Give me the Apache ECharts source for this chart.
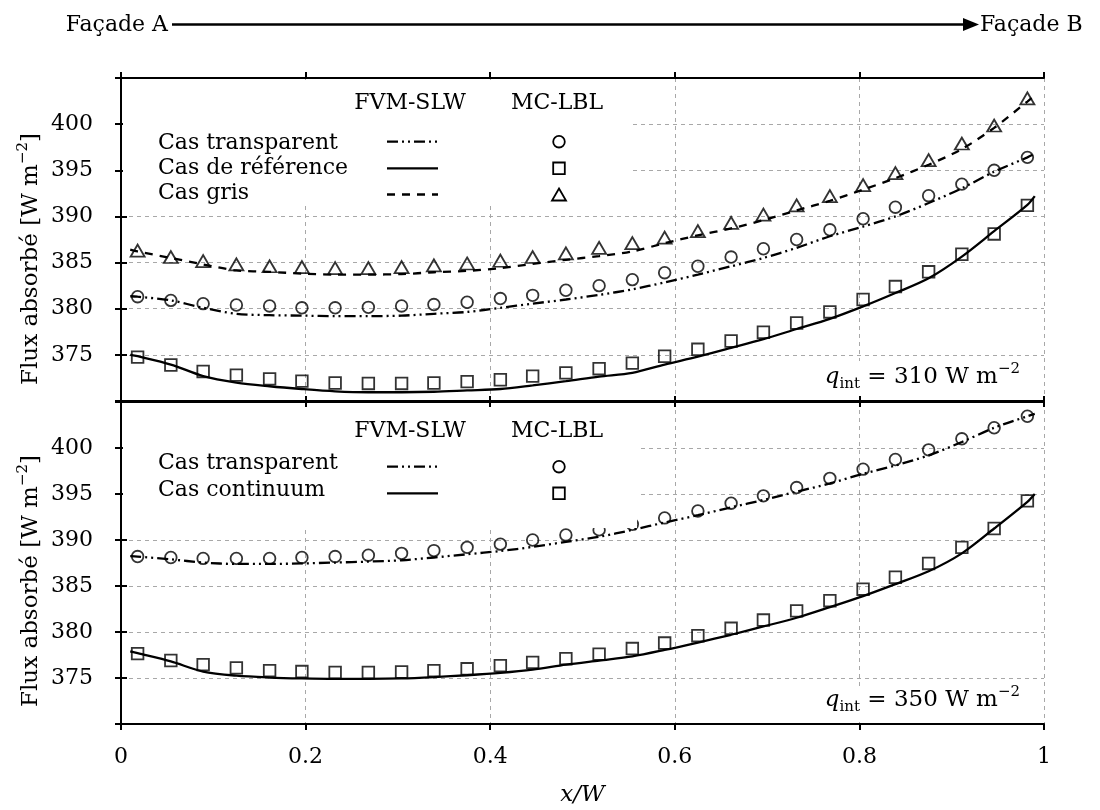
<!DOCTYPE html>
<html><head><meta charset="utf-8">
<script src="https://cdn.jsdelivr.net/npm/echarts@6/dist/echarts.min.js"></script>
<style>html,body{margin:0;padding:0;background:#fff}#c{width:1100px;height:810px}</style>
</head><body><div id="c"></div>
<script>
// ---------- data ----------
const markerX = [0.018, 0.054, 0.089, 0.125, 0.161, 0.196, 0.232, 0.268, 0.304, 0.339, 0.375, 0.411, 0.446, 0.482,
                 0.518, 0.554, 0.589, 0.625, 0.661, 0.696, 0.732, 0.768, 0.804, 0.839, 0.875, 0.911, 0.946, 0.982];
const lineX = [0.010, 0.018, 0.054, 0.089, 0.125, 0.161, 0.196, 0.232, 0.268, 0.304, 0.339, 0.375, 0.411, 0.446, 0.482,
               0.518, 0.554, 0.589, 0.625, 0.661, 0.696, 0.732, 0.768, 0.804, 0.839, 0.875, 0.911, 0.946, 0.982, 0.990];
const xTicks = [0, 0.2, 0.4, 0.6, 0.8, 1];
const yTicks = [375, 380, 385, 390, 395, 400];

// Top panel (q_int = 310)
const topTransMC = [381.3, 380.9, 380.55, 380.4, 380.3, 380.1, 380.1, 380.15, 380.3, 380.45, 380.7, 381.1, 381.45, 382.0,
                    382.5, 383.15, 383.9, 384.6, 385.6, 386.5, 387.5, 388.55, 389.75, 391.0, 392.25, 393.5, 395.0, 396.4];
const topRefMC = [374.75, 373.9, 373.2, 372.8, 372.4, 372.15, 371.95, 371.9, 371.9, 371.95, 372.1, 372.3, 372.7, 373.05,
                  373.5, 374.1, 374.85, 375.6, 376.5, 377.45, 378.45, 379.65, 381.0, 382.4, 384.0, 385.9, 388.1, 391.2];
const topGrisMC = [386.3, 385.6, 385.15, 384.8, 384.6, 384.5, 384.4, 384.4, 384.5, 384.7, 384.9, 385.2, 385.6, 386.0,
                   386.6, 387.1, 387.7, 388.4, 389.3, 390.2, 391.2, 392.2, 393.4, 394.7, 396.1, 397.9, 399.85, 402.8];
const topTransFVM = [381.35, 381.3, 380.9, 380.1, 379.45, 379.3, 379.25, 379.2, 379.2, 379.25, 379.45, 379.65, 380.1, 380.55, 381.0,
                     381.5, 382.1, 382.85, 383.7, 384.6, 385.5, 386.6, 387.85, 388.9, 390.0, 391.45, 393.05, 394.85, 396.4, 396.8];
const topRefFVM = [375.0, 374.85, 373.95, 372.7, 372.0, 371.6, 371.3, 371.05, 370.95, 370.95, 371.0, 371.15, 371.3, 371.7, 372.15,
                   372.65, 373.05, 373.95, 374.8, 375.75, 376.7, 377.8, 378.9, 380.25, 381.7, 383.3, 385.65, 388.4, 391.25, 392.2];
const topGrisFVM = [386.4, 386.2, 385.5, 384.8, 384.15, 384.0, 383.8, 383.7, 383.7, 383.75, 383.95, 384.1, 384.4, 384.85, 385.3,
                    385.7, 386.2, 387.1, 387.95, 388.7, 389.6, 390.65, 391.7, 392.9, 394.15, 395.6, 397.3, 399.6, 402.45, 403.1];

// Bottom panel (q_int = 350)
const botTransMC = [388.2, 388.1, 388.0, 388.0, 388.0, 388.1, 388.2, 388.35, 388.55, 388.85, 389.2, 389.55, 390.0, 390.55,
                    391.1, 391.7, 392.4, 393.15, 394.0, 394.8, 395.7, 396.7, 397.7, 398.75, 399.8, 401.0, 402.2, 403.45];
const botContMC = [377.65, 376.9, 376.45, 376.1, 375.8, 375.7, 375.6, 375.6, 375.65, 375.8, 376.0, 376.35, 376.7, 377.1,
                   377.6, 378.2, 378.8, 379.6, 380.4, 381.3, 382.3, 383.4, 384.65, 385.95, 387.45, 389.2, 391.25, 394.25];
const botTransFVM = [388.25, 388.2, 387.9, 387.55, 387.4, 387.4, 387.45, 387.55, 387.65, 387.8, 388.1, 388.45, 388.8, 389.25, 389.8,
                     390.35, 391.1, 391.9, 392.7, 393.55, 394.35, 395.25, 396.15, 397.2, 398.1, 399.2, 400.65, 402.2, 403.45, 403.7];
const botContFVM = [377.9, 377.7, 376.8, 375.7, 375.25, 375.05, 374.95, 374.9, 374.9, 374.95, 375.1, 375.3, 375.55, 375.9, 376.45,
                    376.9, 377.35, 378.05, 378.85, 379.7, 380.6, 381.55, 382.7, 383.9, 385.2, 386.6, 388.55, 391.25, 394.15, 395.0];

// ---------- styling ----------
const FONT = 'DejaVu Serif';
const DASHDOTDOT = [11, 4, 2, 4, 2, 4];
const DASHED = [8, 7];
const MK = {color: 'rgba(255,255,255,0)', borderColor: '#000', borderWidth: 1.8};

const chart = echarts.init(document.getElementById('c'), null, {renderer: 'canvas'});
const pairs = (xs, ys) => xs.map((x, i) => [x, ys[i]]);

const axisLine = {show: true, lineStyle: {color: '#000', width: 2}};
const axisTick = {show: true, inside: false, length: 6, lineStyle: {color: '#000', width: 2}};
const split = {show: true, lineStyle: {color: '#a8a8a8', width: 1, type: [4, 4]}};

function xAxes(gi, labels) {
  return [
    {gridIndex: gi, type: 'value', min: xTicks[0], max: xTicks[xTicks.length - 1], interval: 0.2, position: 'bottom',
     axisLine, axisTick, splitLine: split,
     axisLabel: {show: labels, margin: 22, color: '#000', fontFamily: FONT, fontSize: 22},
     name: labels ? 'x/W' : '', nameLocation: 'middle', nameGap: 60,
     nameTextStyle: {fontFamily: FONT, fontStyle: 'italic', fontSize: 23, color: '#000'}},
    {gridIndex: gi, type: 'value', min: xTicks[0], max: xTicks[xTicks.length - 1], interval: 0.2, position: 'top',
     axisLine, axisTick, splitLine: {show: false}, axisLabel: {show: false}}
  ];
}
function yAxes(gi) {
  return [
    {gridIndex: gi, type: 'value', min: 370, max: 405, interval: 5, position: 'left',
     axisLine, axisTick, splitLine: split,
     axisLabel: {margin: 20, padding: [0, 8, 0, 0], color: '#000', fontFamily: FONT, fontSize: 22,
                 formatter: v => (yTicks.indexOf(v) >= 0 ? String(v) : '')}},
    {gridIndex: gi, type: 'value', min: 370, max: 405, interval: 5, position: 'right',
     axisLine, axisTick, splitLine: {show: false}, axisLabel: {show: false}}
  ];
}
function lineS(xi, yi, data, type) {
  return {type: 'line', xAxisIndex: xi, yAxisIndex: yi, data, showSymbol: false, symbol: 'none', smooth: 0.3,
          silent: true, z: 3, lineStyle: {color: '#000', width: 2.3, type}};
}
function scatS(xi, yi, data, symbol, size) {
  return {type: 'scatter', xAxisIndex: xi, yAxisIndex: yi, data, symbol, symbolSize: size, silent: true, z: 4,
          itemStyle: MK};
}

// ---------- graphic helpers (legend, labels) ----------
const g = [];
const txt = (x, y, text, opts = {}) => g.push({type: 'text', x, y, z: 20, silent: true,
  style: Object.assign({text, fill: '#000', font: `22px "${FONT}"`, align: 'left', verticalAlign: 'middle'}, opts)});
const seg = (x1, x2, y, dash, w) => g.push({type: 'line', z: 20, silent: true,
  shape: {x1, y1: y, x2, y2: y}, style: {stroke: '#000', lineWidth: w || 2.3, lineDash: dash || null}});
const white = (x, y, w, h) => g.push({type: 'rect', z: 10, silent: true, shape: {x, y, width: w, height: h},
  style: {fill: '#fff'}});
const mCircle = (x, y) => g.push({type: 'circle', z: 20, silent: true, shape: {cx: x, cy: y, r: 5.8},
  style: {fill: 'none', stroke: '#000', lineWidth: 1.8}});
const mSquare = (x, y) => g.push({type: 'rect', z: 20, silent: true, shape: {x: x - 5.8, y: y - 5.8, width: 11.6, height: 11.6},
  style: {fill: 'none', stroke: '#000', lineWidth: 1.8}});
const mTri = (x, y) => g.push({type: 'polygon', z: 20, silent: true,
  shape: {points: [[x, y - 6.5], [x + 7, y + 5.5], [x - 7, y + 5.5]]}, style: {fill: 'none', stroke: '#000', lineWidth: 1.8}});

// header arrow
txt(168, 25, 'Façade A', {align: 'right'});
seg(172, 968, 24.5, null, 2.5);
g.push({type: 'polygon', z: 20, silent: true, shape: {points: [[963, 18], [979, 24.5], [963, 31]]}, style: {fill: '#000'}});
txt(980, 25, 'Façade B');

// top legend
white(123, 80, 507, 126);
txt(410, 103, 'FVM-SLW', {align: 'center'});
txt(557, 103, 'MC-LBL', {align: 'center'});
txt(158, 143, 'Cas transparent');
txt(158, 168, 'Cas de référence');
txt(158, 193, 'Cas gris');
seg(387, 438, 141.7, DASHDOTDOT); seg(387, 438, 168.3); seg(387, 438, 194.5, DASHED);
mCircle(559, 141.7); mSquare(559, 168.3); mTri(559, 195);

// bottom legend
white(123, 409, 514, 119);
txt(410, 431, 'FVM-SLW', {align: 'center'});
txt(557, 431, 'MC-LBL', {align: 'center'});
txt(158, 463, 'Cas transparent');
txt(158, 490, 'Cas continuum');
seg(387, 438, 466.7, DASHDOTDOT); seg(387, 438, 493.3);
mCircle(559, 466.7); mSquare(559, 493.3);

// annotations
const annRich = {
  q: {fontFamily: FONT, fontStyle: 'italic', fontSize: 23, lineHeight: 30},
  sub: {fontFamily: FONT, fontSize: 15, lineHeight: 22, verticalAlign: 'bottom'},
  n: {fontFamily: FONT, fontSize: 23, lineHeight: 30},
  sup: {fontFamily: FONT, fontSize: 15, lineHeight: 15, verticalAlign: 'top'}
};
white(812, 361, 228, 33);
g.push({type: 'text', x: 1020, y: 377, z: 20, silent: true, style: {text: '{q|q}{sub|int}{n| = 310 W m}{sup|−2}',
  rich: annRich, fill: '#000', align: 'right', verticalAlign: 'middle'}});
white(812, 689, 228, 29);
g.push({type: 'text', x: 1020, y: 700, z: 20, silent: true, style: {text: '{q|q}{sub|int}{n| = 350 W m}{sup|−2}',
  rich: annRich, fill: '#000', align: 'right', verticalAlign: 'middle'}});

// y titles
const yRich = {n: {fontFamily: FONT, fontSize: 23, lineHeight: 30}, sup: {fontFamily: FONT, fontSize: 15, lineHeight: 15, verticalAlign: 'top'}};
g.push({type: 'text', x: 31, y: 259, rotation: Math.PI / 2, z: 20, silent: true,
  style: {text: '{n|Flux absorbé [W m}{sup|−2}{n|]}', rich: yRich, fill: '#000', align: 'center', verticalAlign: 'middle'}});
g.push({type: 'text', x: 31, y: 581, rotation: Math.PI / 2, z: 20, silent: true,
  style: {text: '{n|Flux absorbé [W m}{sup|−2}{n|]}', rich: yRich, fill: '#000', align: 'center', verticalAlign: 'middle'}});

const option = {
  animation: false,
  backgroundColor: '#fff',
  grid: [
    {left: 121, top: 78, width: 923, height: 323, containLabel: false},
    {left: 121, top: 402, width: 923, height: 322, containLabel: false}
  ],
  xAxis: [...xAxes(0, false), ...xAxes(1, true)],
  yAxis: [...yAxes(0), ...yAxes(1)],
  series: [
    lineS(0, 0, pairs(lineX, topTransFVM), DASHDOTDOT),
    lineS(0, 0, pairs(lineX, topRefFVM), 'solid'),
    lineS(0, 0, pairs(lineX, topGrisFVM), DASHED),
    scatS(0, 0, pairs(markerX, topTransMC), 'circle', 11.6),
    scatS(0, 0, pairs(markerX, topRefMC), 'rect', 11.6),
    scatS(0, 0, pairs(markerX, topGrisMC), 'triangle', [14, 12]),
    lineS(2, 2, pairs(lineX, botTransFVM), DASHDOTDOT),
    lineS(2, 2, pairs(lineX, botContFVM), 'solid'),
    scatS(2, 2, pairs(markerX, botTransMC), 'circle', 11.6),
    scatS(2, 2, pairs(markerX, botContMC), 'rect', 11.6)
  ],
  graphic: {elements: g}
};
chart.setOption(option);
</script>
</body></html>
